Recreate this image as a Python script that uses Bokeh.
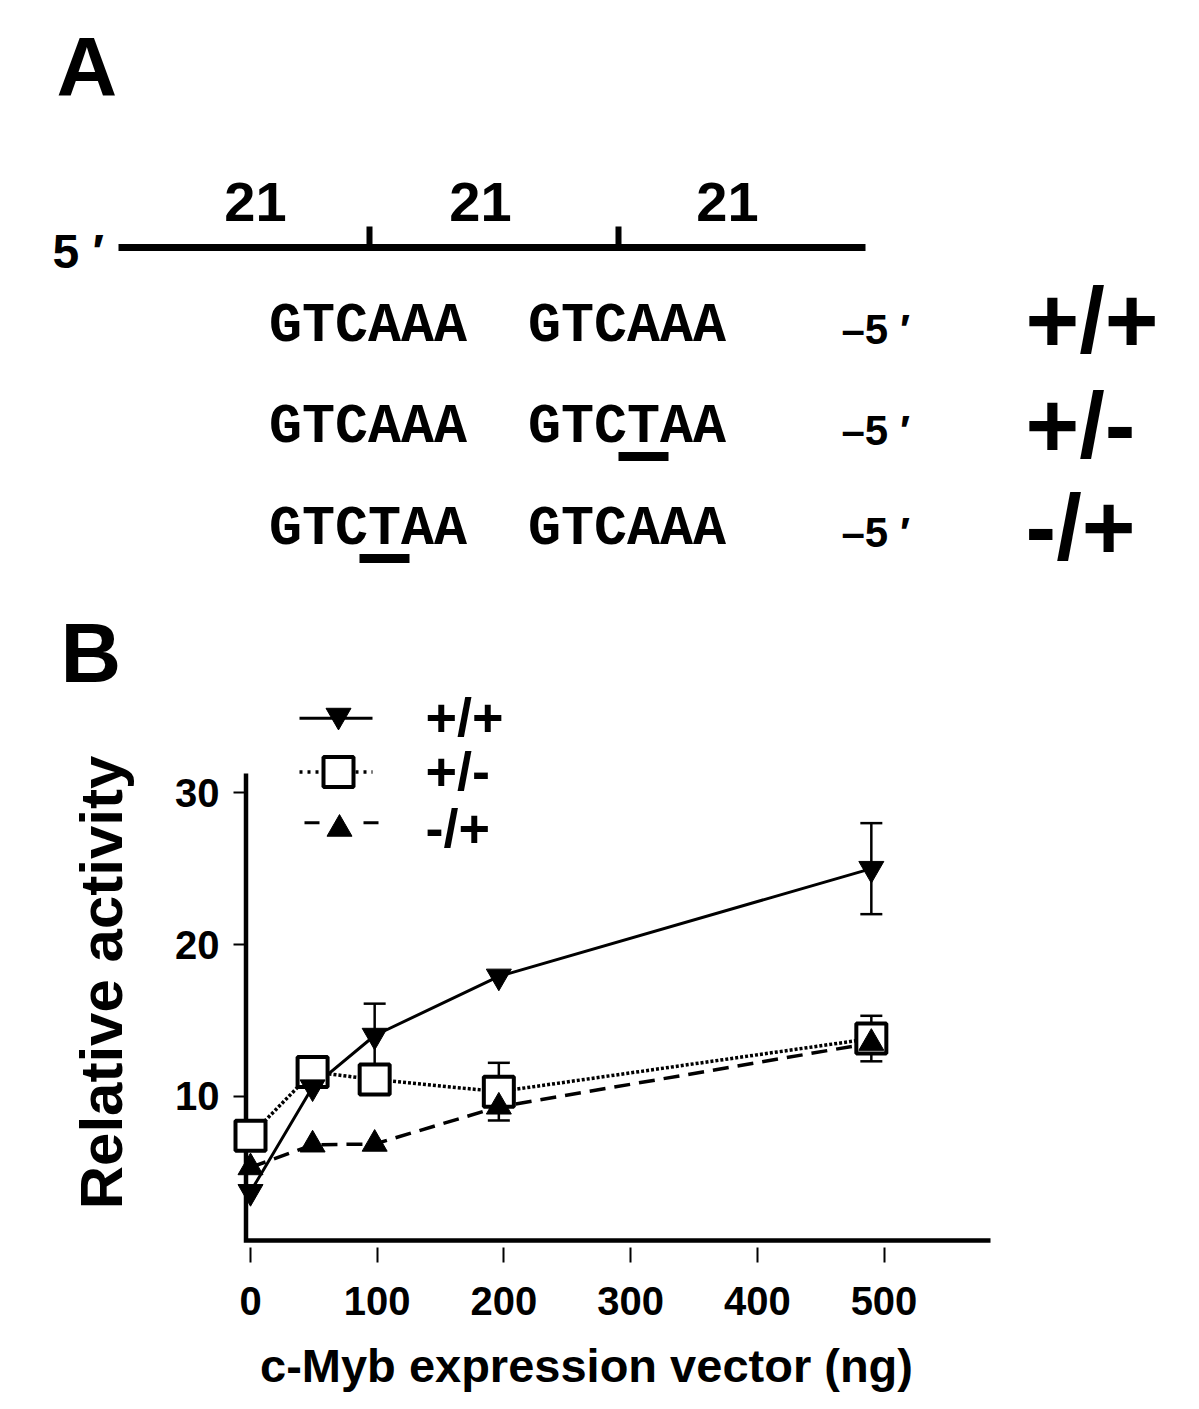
import math
from bokeh.plotting import figure
from bokeh.models import Range1d, FixedTicker, Whisker, ColumnDataSource, TeeHead, LinearAxis
from bokeh.embed import file_html
from bokeh.resources import INLINE
from bokeh.core.properties import value

# ---------------- data (panel B) ----------------
dose = [0, 49, 98, 196, 490]                 # c-Myb expression vector (ng)
wt_mean = [3.7, 10.6, 14.0, 17.9, 25.0]      # +/+
wt_err = [0, 0, 2.1, 0, 3.0]
pm_mean = [7.4, 11.6, 11.1, 10.3, 13.8]      # +/-
pm_err = [0, 0, 0.6, 1.9, 1.5]
mp_mean = [5.3, 6.8, 6.85, 9.3, 13.5]        # -/+
mp_err = [0, 0, 0, 0, 0]
x_ticks = [0, 100, 200, 300, 400, 500]
y_ticks = [10, 20, 30]
series_labels = ["+/+", "+/-", "-/+"]
x_title = "c-Myb expression vector (ng)"
y_title = "Relative activity"

# ---------------- data (panel A) ----------------
repeat_labels = ["21", "21", "21"]
seq_left = ["GTCAAA", "GTCAAA", "GTCTAA"]
seq_right = ["GTCAAA", "GTCTAA", "GTCAAA"]
row_tags = ["+/+", "+/-", "-/+"]
mutated = [None, "right", "left"]   # which half carries the T mutation (4th base)

BOLD_SANS = "Liberation Sans"
MONO = "Liberation Mono"
W, H = 1199, 1409
K_BASE = 0.36   # empirical baseline correction (fraction of font size)

# ---- chart scale: pixel <-> data (one frame spanning the whole canvas) ----
PX_X = 1.267     # px per x unit
PX_Y = 15.17     # px per y unit
X_ZERO_PX, Y_ZERO_PX = 250, 1247.4


def dx(px):
    return (px - X_ZERO_PX) / PX_X


def dy(py):
    return (Y_ZERO_PX - py) / PX_Y


p = figure(width=W, height=H, x_range=Range1d(dx(0), dx(W)), y_range=Range1d(dy(H), dy(0)),
           output_backend="svg", toolbar_location=None, min_border=0,
           x_axis_location=None, y_axis_location=None)
p.grid.visible = False
p.outline_line_color = None


def txt(px, py, s, size, font=BOLD_SANS, align="left"):
    # py is the wanted baseline (pixel row)
    p.text(x=[dx(px)], y=[dy(py - K_BASE * size)], text=[s], text_font=value(font),
           text_font_style="bold", text_font_size=f"{size}px", text_align=align,
           text_baseline="alphabetic", text_color="black")


def seg(x0, y0, x1, y1, w):
    p.segment(x0=[dx(x0)], y0=[dy(y0)], x1=[dx(x1)], y1=[dy(y1)],
              line_width=w, line_color="black", line_cap="butt")


# ===================== Panel A =====================
txt(56, 97, "A", 84)
txt(60, 683, "B", 84)
txt(52, 268, "5 \u2032", 48)

seg(118, 247, 865, 247, 7)
for tx in (369, 618):
    seg(tx, 247, tx, 226, 6)
for cx, lab in zip([255, 480, 727], repeat_labels):
    txt(cx, 222, lab, 56, align="center")

row_base = [346, 447, 549]
col_centers = [367.5, 626.5]
seq_size = 55
char_w = 0.6 * seq_size
for i in range(3):
    yb = row_base[i]
    txt(col_centers[0], yb, seq_left[i], seq_size, font=MONO, align="center")
    txt(col_centers[1], yb, seq_right[i], seq_size, font=MONO, align="center")
    txt(841, yb - 2, "\u20135 \u2032", 42)
    if mutated[i] is not None:
        cc = col_centers[0] if mutated[i] == "left" else col_centers[1]
        xm = cc + 0.5 * char_w
        seg(xm - 25, yb + 9, xm + 25, yb + 9, 9)

for yb, tag in zip([353, 458, 560], row_tags):
    txt(1025, yb, tag, 92)

# ===================== Panel B =====================
tick_font = dict(major_label_text_font=BOLD_SANS, major_label_text_font_style="bold",
                 major_label_text_font_size="40px", major_label_text_color="black",
                 axis_line_color=None, minor_tick_line_color=None, major_tick_line_width=2)
yaxis = LinearAxis(fixed_location=dx(238), ticker=FixedTicker(ticks=y_ticks),
                   major_tick_in=8, major_tick_out=5, major_label_standoff=14, **tick_font)
xaxis = LinearAxis(fixed_location=dy(1247), ticker=FixedTicker(ticks=x_ticks),
                   major_tick_in=0, major_tick_out=15, major_label_standoff=24, **tick_font)
p.add_layout(yaxis, "left")
p.add_layout(xaxis, "below")

# L-shaped axis frame
AX_X, AX_Y, AX_TOP, AX_RIGHT = dx(245.5), dy(1240), dy(773), dx(990)
p.line([AX_X, AX_X, AX_RIGHT], [AX_TOP, AX_Y, AX_Y], line_width=4.5,
       line_color="black", line_join="miter")

# series lines
p.line(dose, wt_mean, line_width=3, line_color="black")
p.line(dose, pm_mean, line_width=3.5, line_color="black", line_dash="3 2")
p.line(dose, mp_mean, line_width=3.5, line_color="black", line_dash="16 9")

p.scatter(dose, pm_mean, marker="square", size=30, line_width=4,
          line_color="black", fill_color="white")

for mean, err in ((wt_mean, wt_err), (pm_mean, pm_err), (mp_mean, mp_err)):
    xs = [d for d, e in zip(dose, err) if e > 0]
    if not xs:
        continue
    up = [m + e for m, e in zip(mean, err) if e > 0]
    lo = [m - e for m, e in zip(mean, err) if e > 0]
    src = ColumnDataSource(dict(x=xs, upper=up, lower=lo))
    p.add_layout(Whisker(source=src, base="x", upper="upper", lower="lower",
                         line_width=2.5, line_color="black",
                         upper_head=TeeHead(size=22, line_width=2.5, line_color="black"),
                         lower_head=TeeHead(size=22, line_width=2.5, line_color="black")))

p.scatter(dose, wt_mean, marker="inverted_triangle", size=25, color="black")
p.scatter(dose, mp_mean, marker="triangle", size=25, color="black")

# legend (drawn)
p.line([dx(299), dx(372)], [dy(717.7)] * 2, line_width=3, line_color="black")
p.scatter([dx(338)], [dy(715)], marker="inverted_triangle", size=25, color="black")
p.line([dx(299), dx(372)], [dy(771.5)] * 2, line_width=3.5, line_color="black", line_dash="3 5")
p.scatter([dx(338)], [dy(771.5)], marker="square", size=30, line_width=4,
          line_color="black", fill_color="white")
p.line([dx(304), dx(379)], [dy(822.3)] * 2, line_width=3, line_color="black", line_dash="15 44")
p.scatter([dx(339)], [dy(828.5)], marker="triangle", size=25, color="black")
for yb, lab in zip([735.5, 789.5, 847], series_labels):
    txt(425, yb, lab, 54)

# axis titles
Y_T_SIZE = 60
p.text(x=[dx(123 - K_BASE * Y_T_SIZE)], y=[dy(982)], text=[y_title], angle=math.pi / 2,
       text_font=value(BOLD_SANS), text_font_style="bold", text_font_size=f"{Y_T_SIZE}px",
       text_align="center", text_baseline="alphabetic", text_color="black")
txt(586, 1382, x_title, 47, align="center")

open("out.html", "w").write(file_html(p, INLINE))
